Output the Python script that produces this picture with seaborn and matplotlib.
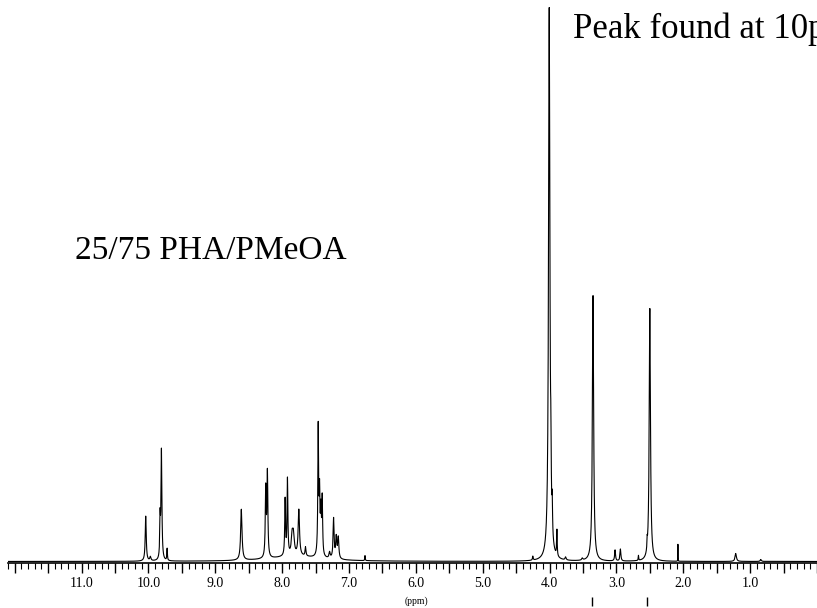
import numpy as np
import pandas as pd
import matplotlib
matplotlib.use("Agg")
import matplotlib.pyplot as plt
from matplotlib.ticker import MultipleLocator, FuncFormatter
import seaborn as sns

# 1H NMR peak table: shift (ppm), height (intensity), half width (ppm)
peak_ppm = [10.04, 9.97, 9.825, 9.805, 9.72,
            8.61, 8.245, 8.22, 7.955, 7.92, 7.85, 7.83, 7.75, 7.65,
            7.46, 7.44, 7.40, 7.42, 7.29, 7.23, 7.19, 7.16, 6.76, 7.80,
            4.25, 4.005, 3.98, 3.96, 3.89, 3.76, 3.51,
            3.35, 3.02, 2.94, 2.67, 2.54, 2.50, 2.08, 1.215, 0.84]
peak_height = [45, 4, 38, 110, 12,
               51, 68, 84, 56, 76, 19, 19, 46, 9,
               128, 58, 56, 43, 6, 40, 21, 21, 5, 5,
               4, 552, 50, 32, 26, 3, 2,
               266, 11, 12, 5, 9, 253, 17, 8, 2]
peak_width = [0.009, 0.01, 0.006, 0.008, 0.005,
              0.012, 0.008, 0.008, 0.007, 0.007, 0.015, 0.015, 0.012, 0.008,
              0.007, 0.007, 0.007, 0.008, 0.01, 0.009, 0.01, 0.01, 0.004, 0.45,
              0.006, 0.012, 0.005, 0.005, 0.005, 0.01, 0.01,
              0.011, 0.008, 0.008, 0.004, 0.004, 0.011, 0.0015, 0.012, 0.01]

sample_label = "25/75 PHA/PMeOA"
note_label = "Peak found at 10ppm"
integral_marks = [3.36, 2.54]

# build spectrum as a sum of Lorentzian lines
ppm = np.linspace(0.0, 12.1, 30000)
intensity = np.zeros_like(ppm)
for c, h, w in zip(peak_ppm, peak_height, peak_width):
    intensity += h / (1 + ((ppm - c) / w) ** 2)
spec = pd.DataFrame({"ppm": ppm, "intensity": intensity})

sns.set_theme(style="white")
plt.rcParams["font.family"] = ["Liberation Serif", "DejaVu Serif"]
plt.rcParams["text.color"] = "black"
plt.rcParams["xtick.labelcolor"] = "black"

fig = plt.figure(figsize=(8.17, 6.08), dpi=100)
ax = fig.add_axes([8 / 817, 45 / 608, 809 / 817, 563 / 608])

sns.lineplot(data=spec, x="ppm", y="intensity", color="black",
             linewidth=0.8, estimator=None, sort=False, ax=ax)

ax.set_xlim(12.1, 0.0)
ax.set_ylim(-1.5, 562)
for s in ["left", "right", "top"]:
    ax.spines[s].set_visible(False)
ax.spines["bottom"].set_linewidth(1.2)
ax.spines["bottom"].set_color("black")
ax.set_yticks([])
ax.set_ylabel("")
ax.set_xlabel("")

ax.xaxis.set_major_locator(MultipleLocator(0.5))
ax.xaxis.set_minor_locator(MultipleLocator(0.1))
ax.xaxis.set_major_formatter(FuncFormatter(
    lambda v, p: f"{v:.1f}" if abs(v - round(v)) < 1e-6 and 0.5 < v < 11.5 else ""))
ax.tick_params(axis="x", which="major", direction="out", length=7, width=1,
               color="black", labelcolor="black", labelsize=10, pad=3, bottom=True)
ax.tick_params(axis="x", which="minor", direction="out", length=4, width=0.8,
               color="black", bottom=True)

ax.vlines(integral_marks, -0.061, -0.077, transform=ax.get_xaxis_transform(),
          color="black", linewidth=1, clip_on=False)

fig.text(416 / 817, (608 - 601) / 608, "(ppm)", fontsize=7,
         ha="center", va="center")
fig.text(75 / 817, (608 - 259) / 608, sample_label, fontsize=24,
         va="baseline", ha="left")
fig.text(573 / 817, (608 - 38) / 608, note_label, fontsize=25,
         va="baseline", ha="left")

fig.savefig("out.png", dpi=100)
